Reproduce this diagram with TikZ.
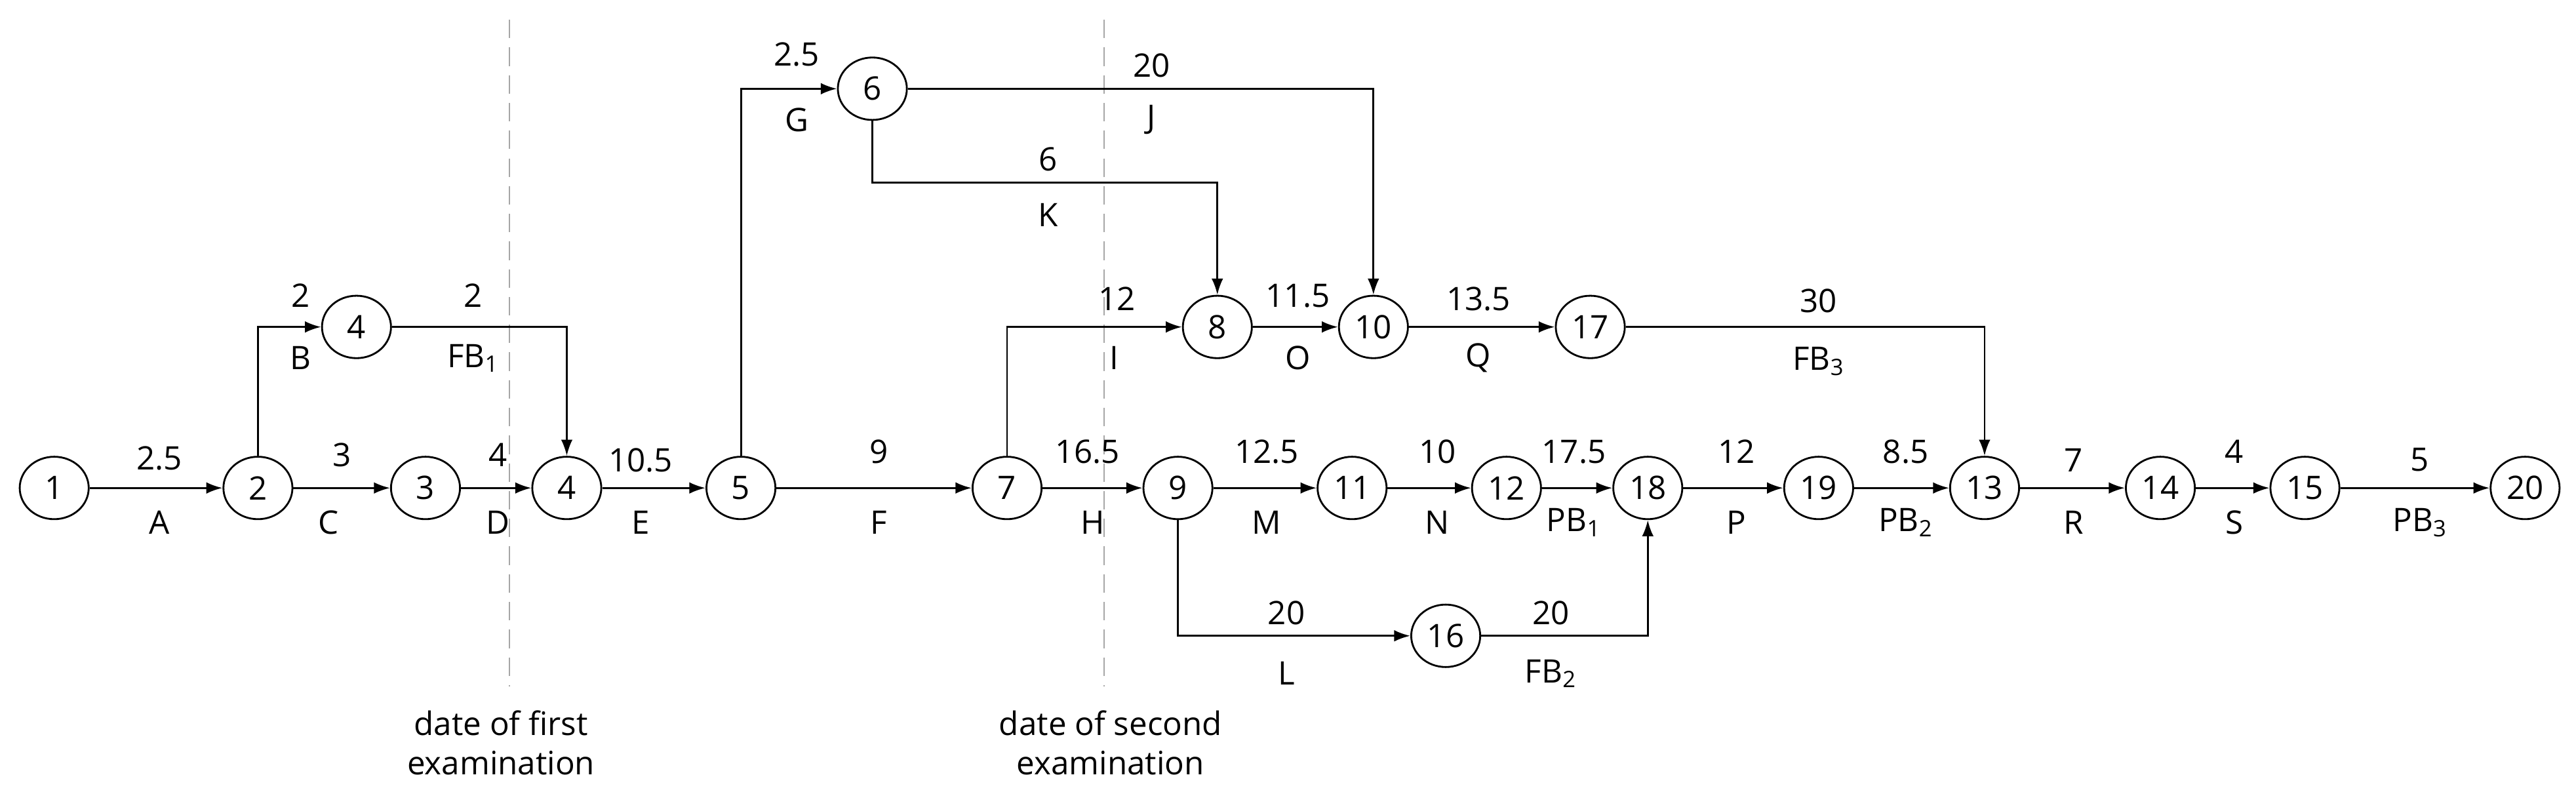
\documentclass[tikz,border=0pt]{standalone}
\usepackage{fontspec}
\setmainfont{Open Sans}
\usetikzlibrary{arrows.meta,shapes.geometric}
\begin{document}
\begin{tikzpicture}[x=0.025cm,y=-0.025cm,
  ev/.style={draw,ellipse,minimum width=42*0.025cm,minimum height=38*0.025cm,inner sep=0pt,line width=0.8pt,font=\fontsize{14}{17}\selectfont},
  lb/.style={font=\fontsize{14}{17}\selectfont,inner sep=0pt},
  ar/.style={line width=0.8pt,-{Latex[length=7pt,width=5pt]}},
  dl/.style={draw=gray!70,dash pattern=on 8pt off 4pt,line width=0.6pt}]
\useasboundingbox (0,0) rectangle (1568,483);
\draw[dl] (310,12) coordinate(da) -- (310,418) coordinate(db);
\draw[dl] (672,12) coordinate(dc) -- (672,418) coordinate(dd);
\node[lb,align=center] (t1) at (305,452) {date of first\\examination};
\node[lb,align=center] (t2) at (676,452) {date of second\\examination};
\foreach \n/\x/\y/\t in {n1/33/297/1,n2/157/297/2,n3/259/297/3,n4b/345/297/4,n5/451/297/5,n7/613/297/7,n9/717/297/9,n11/823/297/11,n12/917/297/12,n18/1003/297/18,n19/1107/297/19,n13/1208/297/13,n14/1315/297/14,n15/1403/297/15,n20/1537/297/20,n4t/217/199/4,n6/531/54/6,n8/741/199/8,n10/836/199/10,n17/968/199/17,n16/880/387/16}
  \node[ev,fill=white] (\n) at (\x,\y) {\t};
\draw[ar] (n1) -- (n2);
\draw[ar] (n2) |- (n4t);
\draw[ar] (n4t) -| (n4b);
\draw[ar] (n2) -- (n3);
\draw[ar] (n3) -- (n4b);
\draw[ar] (n4b) -- (n5);
\draw[ar] (n5) |- (n6);
\draw[ar] (n6) -| (n10);
\draw[ar] (n6) |- (741,111) -- (n8);
\draw[ar] (n5) -- (n7);
\draw[ar] (n7) |- (n8);
\draw[ar] (n8) -- (n10);
\draw[ar] (n10) -- (n17);
\draw[ar] (n17) -| (n13);
\draw[ar] (n7) -- (n9);
\draw[ar] (n9) -- (n11);
\draw[ar] (n11) -- (n12);
\draw[ar] (n12) -- (n18);
\draw[ar] (n18) -- (n19);
\draw[ar] (n19) -- (n13);
\draw[ar] (n13) -- (n14);
\draw[ar] (n14) -- (n15);
\draw[ar] (n15) -- (n20);
\draw[ar] (n9) |- (n16);
\draw[ar] (n16) -| (n18);
\foreach \x/\y/\t in {97/279/2.5,97/318/A,183/180/2,183/218/B,288/180/2,288/218/FB\textsubscript{1},208/277/3,200/318/C,303/277/4,303/318/D,390/280/10.5,390/318/E,485/33/2.5,485/73/G,701/40/20,701/73/J,638/97/6,638/131/K,535/275/9,535/318/F,680/182/12,678/218/I,790/180/11.5,790/218/O,900/182/13.5,900/218/Q,1107/183/30,1107/220/FB\textsubscript{3},662/275/16.5,665/318/H,771/275/12.5,771/318/M,875/275/10,875/318/N,958/275/17.5,958/318/PB\textsubscript{1},1057/275/12,1057/318/P,1160/275/8.5,1160/318/PB\textsubscript{2},1262/280/7,1262/318/R,1360/275/4,1360/318/S,1473/280/5,1473/318/PB\textsubscript{3},783/373/20,783/410/L,944/373/20,944/410/FB\textsubscript{2}}
  \node[lb] at (\x,\y) {\t};
\end{tikzpicture}
\end{document}
